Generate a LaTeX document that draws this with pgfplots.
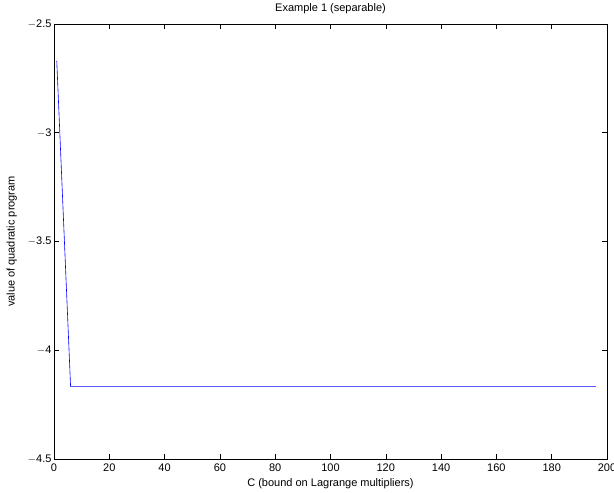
\documentclass[border=0pt]{standalone}
\usepackage{pgfplots}
\pgfplotsset{compat=1.18}
\usepackage{fontspec}
\setmainfont{Liberation Sans}
\begin{document}
\begin{tikzpicture}[x=1pt,y=1pt]
\begin{axis}[
  scale only axis,
  width=553pt, height=435pt,
  xmin=0, xmax=200, ymin=-4.5, ymax=-2.5,
  xtick={0,20,...,200},
  ytick={-4.5,-4,-3.5,-3,-2.5},
  yticklabels={$-$4.5,$-$4,$-$3.5,$-$3,$-$2.5},
  tick align=inside,
  major tick length=5pt,
  tick style={black, line width=0.5pt},
  axis line style={line width=0.8pt},
  /pgf/number format/assume math mode=true,
  ticklabel style={font=\fontsize{11}{13}\selectfont},
  label style={font=\fontsize{11}{13}\selectfont},
  title style={font=\fontsize{11}{13}\selectfont, yshift=1pt},
  title={Example 1 (separable)},
  xlabel={C (bound on Lagrange multipliers)},
  ylabel={value of quadratic program},
  xlabel style={yshift=0pt},
  ylabel style={yshift=4pt},
  xticklabel style={yshift=-1pt},
  yticklabel style={xshift=1pt},
]
\addplot[blue, line width=0.6pt] coordinates {
(1,-2.67) (6,-4.167) (11,-4.167) (16,-4.167) (21,-4.167) (26,-4.167)
(31,-4.167) (36,-4.167) (41,-4.167) (46,-4.167) (51,-4.167) (56,-4.167)
(61,-4.167) (66,-4.167) (71,-4.167) (76,-4.167) (81,-4.167) (86,-4.167)
(91,-4.167) (96,-4.167) (101,-4.167) (106,-4.167) (111,-4.167) (116,-4.167)
(121,-4.167) (126,-4.167) (131,-4.167) (136,-4.167) (141,-4.167) (146,-4.167)
(151,-4.167) (156,-4.167) (161,-4.167) (166,-4.167) (171,-4.167) (176,-4.167)
(181,-4.167) (186,-4.167) (191,-4.167) (196,-4.167)
};
\end{axis}
\pgfresetboundingbox
\useasboundingbox (-54,-34) rectangle (560,459);
\end{tikzpicture}
\end{document}
